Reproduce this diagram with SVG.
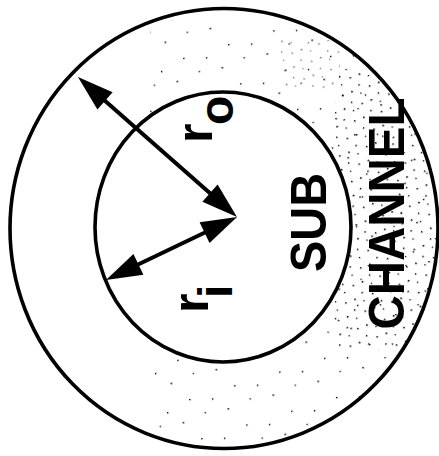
<svg xmlns="http://www.w3.org/2000/svg" width="439" height="456" viewBox="0 0 439 456">
<style>
.ring{fill:none;stroke:#000;stroke-width:3.6}
.arr{fill:none;stroke:#000;stroke-width:4}
.lbl{font-family:"Liberation Sans",Arial,Helvetica,sans-serif;font-weight:bold;fill:#000}
</style>
<defs>
<marker id="head" markerUnits="userSpaceOnUse" orient="auto-start-reverse" refX="0" refY="0" markerWidth="40" markerHeight="30" overflow="visible">
<path d="M20,0 L-16,-11.5 L-16,11.5 Z" fill="#000"/>
</marker>
<pattern id="dense" patternUnits="userSpaceOnUse" width="21" height="19" patternTransform="rotate(23)">
<rect x="2" y="3" width="1.6" height="1.6" fill="#000"/>
<rect x="11" y="1" width="1.3" height="1.3" fill="#000"/>
<rect x="16" y="10" width="1.6" height="1.4" fill="#000"/>
<rect x="6" y="13" width="1.3" height="1.6" fill="#000"/>
</pattern>
<pattern id="sparse" patternUnits="userSpaceOnUse" width="47" height="41" patternTransform="rotate(-17)">
<rect x="4" y="6" width="1.5" height="1.5" fill="#000"/>
<rect x="28" y="3" width="1.3" height="1.3" fill="#000"/>
<rect x="17" y="27" width="1.5" height="1.3" fill="#000"/>
<rect x="39" y="33" width="1.3" height="1.5" fill="#000"/>
</pattern>
<clipPath id="annulus">
<path clip-rule="evenodd" d="M10,228.5 A214,220 0 1,0 438,228.5 A214,220 0 1,0 10,228.5 Z M95,227 A128,135 0 1,1 351,227 A128,135 0 1,1 95,227 Z"/>
</clipPath>
</defs>
<rect width="439" height="456" fill="#fff"/>
<g id="stipple" clip-path="url(#annulus)">
<rect x="150" y="20" width="289" height="420" fill="url(#sparse)"/>
<rect x="335" y="70" width="104" height="280" fill="url(#dense)"/>
<rect x="280" y="40" width="60" height="50" fill="url(#dense)" opacity="0.5"/>
</g>
<g id="channel">
<ellipse class="ring" cx="224" cy="228.5" rx="214" ry="220"/>
<text class="lbl" font-size="50" text-anchor="middle" textLength="232" lengthAdjust="spacingAndGlyphs" transform="translate(404,213.5) rotate(-90)">CHANNEL</text>
</g>
<g id="sub">
<ellipse class="ring" cx="223" cy="227" rx="128" ry="135"/>
<text class="lbl" font-size="50" text-anchor="middle" textLength="99" lengthAdjust="spacingAndGlyphs" transform="translate(326,222.5) rotate(-90)">SUB</text>
</g>
<g id="connectors">
<line class="arr" x1="93" y1="90.2" x2="222" y2="203.8" marker-start="url(#head)" marker-end="url(#head)"/>
<line class="arr" x1="124" y1="271.3" x2="219" y2="225.7" marker-start="url(#head)" marker-end="url(#head)"/>
</g>
<g id="label-ro">
<text class="lbl" font-size="50" transform="translate(212,143) rotate(-90)">r<tspan font-size="48" x="18" y="21">o</tspan></text>
</g>
<g id="label-ri">
<text class="lbl" font-size="50" transform="translate(208,313) rotate(-90)">r<tspan font-size="48" x="15" y="24">i</tspan></text>
</g>
</svg>
